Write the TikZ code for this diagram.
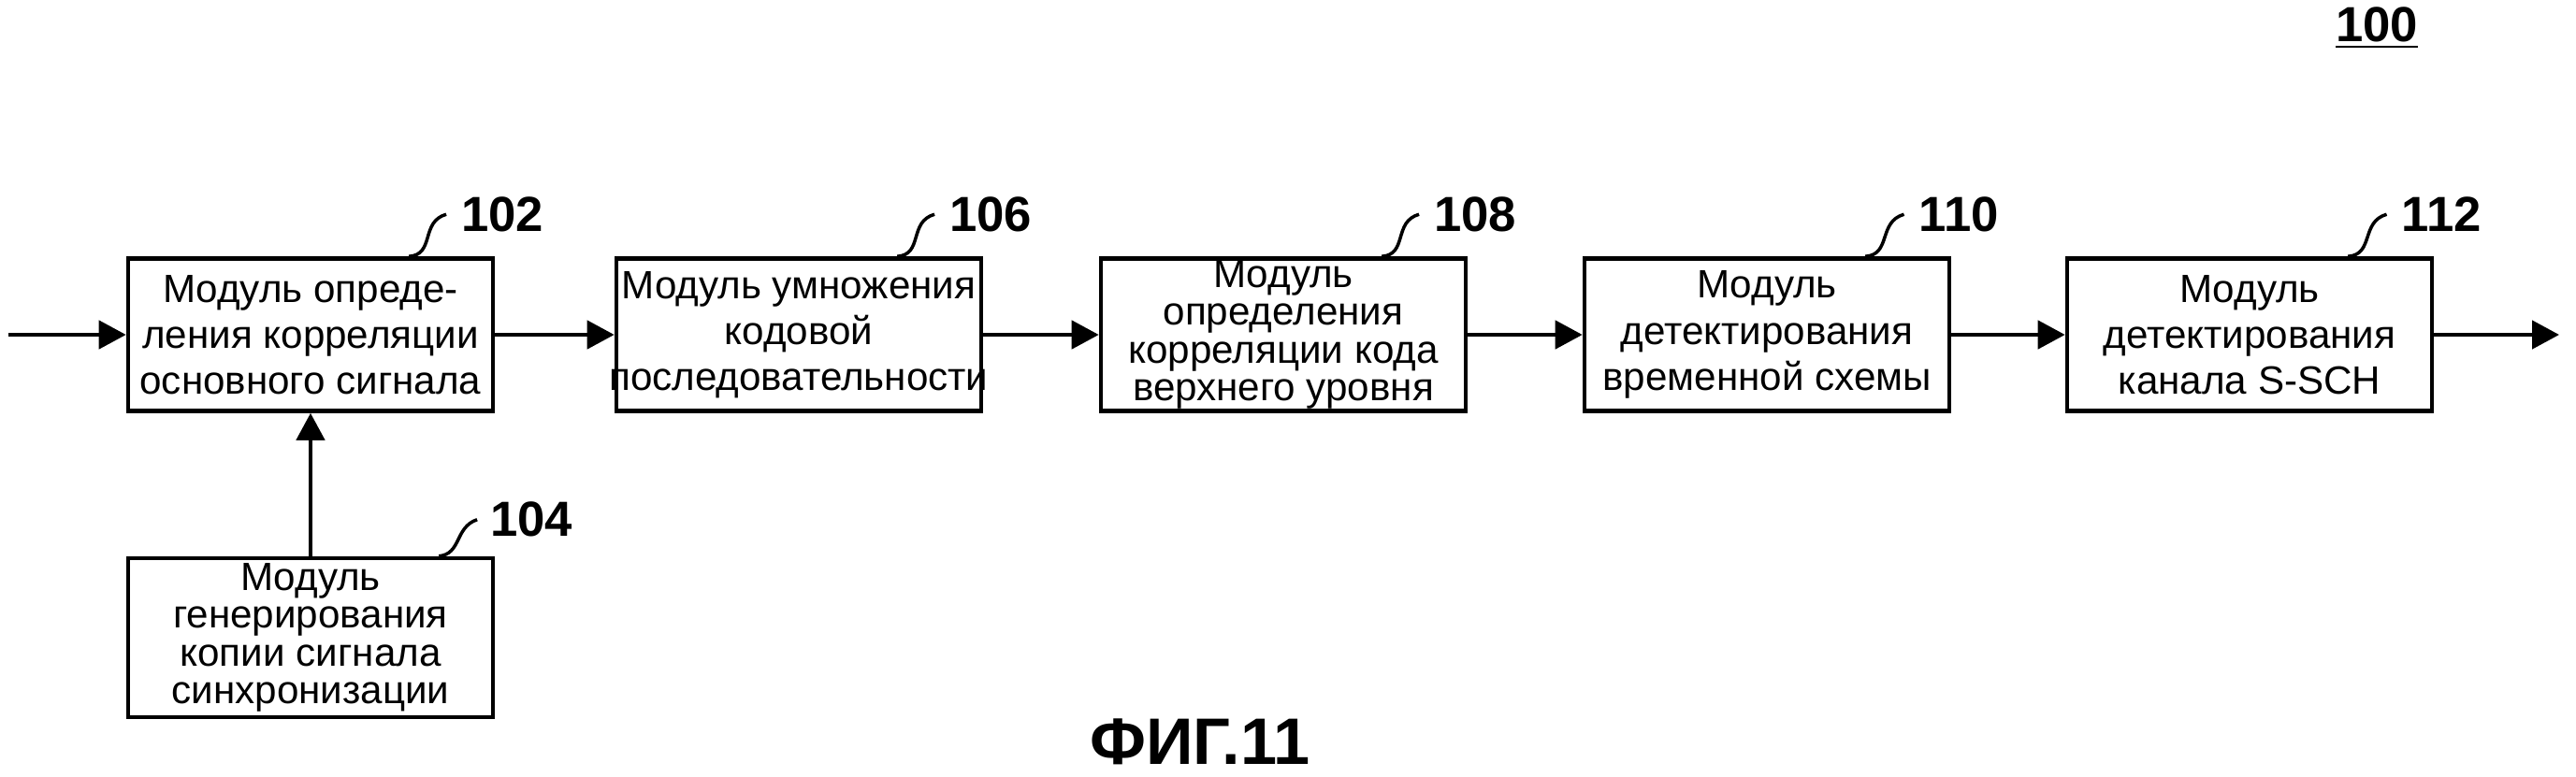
\documentclass[tikz,border=0pt]{standalone}
\usepackage{fontspec}
\setmainfont{Liberation Sans}
\usetikzlibrary{arrows.meta,positioning}

\begin{document}
\begin{tikzpicture}[
    module/.style={draw,line width=1.3pt,minimum width=3.9cm,minimum height=1.63cm,inner sep=0pt,align=center,font=\fontsize{12}{14}\selectfont},
    tall/.style={font=\fontsize{12}{11.5}\selectfont},
    refnum/.style={font=\fontsize{15}{15}\selectfont\bfseries,inner sep=1pt},
    flow/.style={line width=1.3pt,-{Triangle[length=2.9mm,width=3mm]}},
    lead/.style={line width=1pt}
]
    \useasboundingbox (0,0) rectangle (27.54,8.30);

    % chain of modules
    \node[module] (corr)  at (3.32,4.72)  {Модуль опреде-\\ления корреляции\\основного сигнала};
    \node[module,minimum height=1.7cm,tall] (replica) at (3.32,1.48) {Модуль\\генерирования\\копии сигнала\\синхронизации};
    \node[module] (mult)  at (8.54,4.72)  {Модуль умножения\\кодовой\\\makebox[3.9cm][c]{последовательности}};
    \node[module,tall] (upper) at (13.72,4.72) {Модуль\\определения\\корреляции кода\\верхнего уровня};
    \node[module] (timing) at (18.89,4.72) {Модуль\\детектирования\\временной схемы};
    \node[module] (ssch)  at (24.05,4.72) {Модуль\\детектирования\\канала S-SCH};

    \coordinate (in)  at (0.09,4.72);
    \coordinate (out) at (27.36,4.72);

    \draw[flow] (in) -- (corr);
    \draw[flow] (corr) -- (mult);
    \draw[flow] (mult) -- (upper);
    \draw[flow] (upper) -- (timing);
    \draw[flow] (timing) -- (ssch);
    \draw[flow] (ssch) -- (out);
    \draw[flow] (replica) -- (corr);

    % reference numerals
    \node[refnum] (n102) at ([xshift=0.08cm,yshift=0.45cm]corr.north east)   {102};
    \node[refnum] (n104) at ([xshift=0.39cm,yshift=0.39cm]replica.north east) {104};
    \node[refnum] (n106) at ([xshift=0.08cm,yshift=0.45cm]mult.north east)   {106};
    \node[refnum] (n108) at ([xshift=0.08cm,yshift=0.45cm]upper.north east)  {108};
    \node[refnum] (n110) at ([xshift=0.08cm,yshift=0.45cm]timing.north east) {110};
    \node[refnum] (n112) at ([xshift=0.08cm,yshift=0.45cm]ssch.north east)   {112};

    \draw[lead] ([xshift=-0.92cm]corr.north east) .. controls +(0.28,0.02) and +(-0.28,-0.08) .. ([xshift=-0.12cm]n102.west);
    \draw[lead] ([xshift=-0.6cm]replica.north east) .. controls +(0.24,0.02) and +(-0.24,-0.08) .. ([xshift=-0.1cm]n104.west);
    \draw[lead] ([xshift=-0.92cm]mult.north east) .. controls +(0.28,0.02) and +(-0.28,-0.08) .. ([xshift=-0.12cm]n106.west);
    \draw[lead] ([xshift=-0.92cm]upper.north east) .. controls +(0.28,0.02) and +(-0.28,-0.08) .. ([xshift=-0.12cm]n108.west);
    \draw[lead] ([xshift=-0.92cm]timing.north east) .. controls +(0.28,0.02) and +(-0.28,-0.08) .. ([xshift=-0.12cm]n110.west);
    \draw[lead] ([xshift=-0.92cm]ssch.north east) .. controls +(0.28,0.02) and +(-0.28,-0.08) .. ([xshift=-0.12cm]n112.west);

    \node[refnum] (n100) at (25.41,8.0) {\underline{100}};
    \node[font=\fontsize{20}{20}\selectfont\bfseries] (caption) at (12.83,0.37) {ФИГ.11};
\end{tikzpicture}
\end{document}
